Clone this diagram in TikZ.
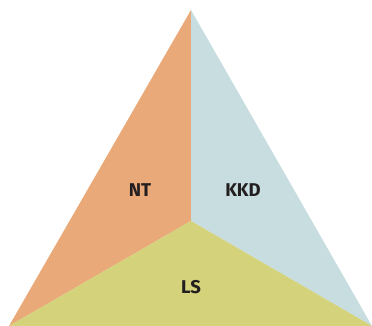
\documentclass[tikz,border=0pt]{standalone}
\usepackage{fontspec}
\setmainfont{Fira Sans}
\definecolor{ntc}{HTML}{E9A978}
\definecolor{kkdc}{HTML}{C8DDE0}
\definecolor{lsc}{HTML}{D4D27A}
\definecolor{txt}{HTML}{231F20}
\begin{document}
\begin{tikzpicture}[x=1pt,y=1pt,
  lbl/.style={font=\fontsize{18.5}{20}\selectfont\bfseries, text=txt, inner sep=0pt}]
\useasboundingbox (0,0) rectangle (372,326);
\coordinate (top) at (191,316);
\coordinate (bl) at (9,0);
\coordinate (br) at (372,0);
\coordinate (c) at (191,105);
\fill[ntc] (top) -- (c) -- (bl) -- cycle;
\fill[kkdc] (top) -- (br) -- (c) -- cycle;
\fill[lsc] (c) -- (br) -- (bl) -- cycle;
\node[lbl] (nt) at (140,136) {NT};
\node[lbl] (kkd) at (243,136) {KKD};
\node[lbl] (ls) at (191,39) {LS};
\end{tikzpicture}
\end{document}
